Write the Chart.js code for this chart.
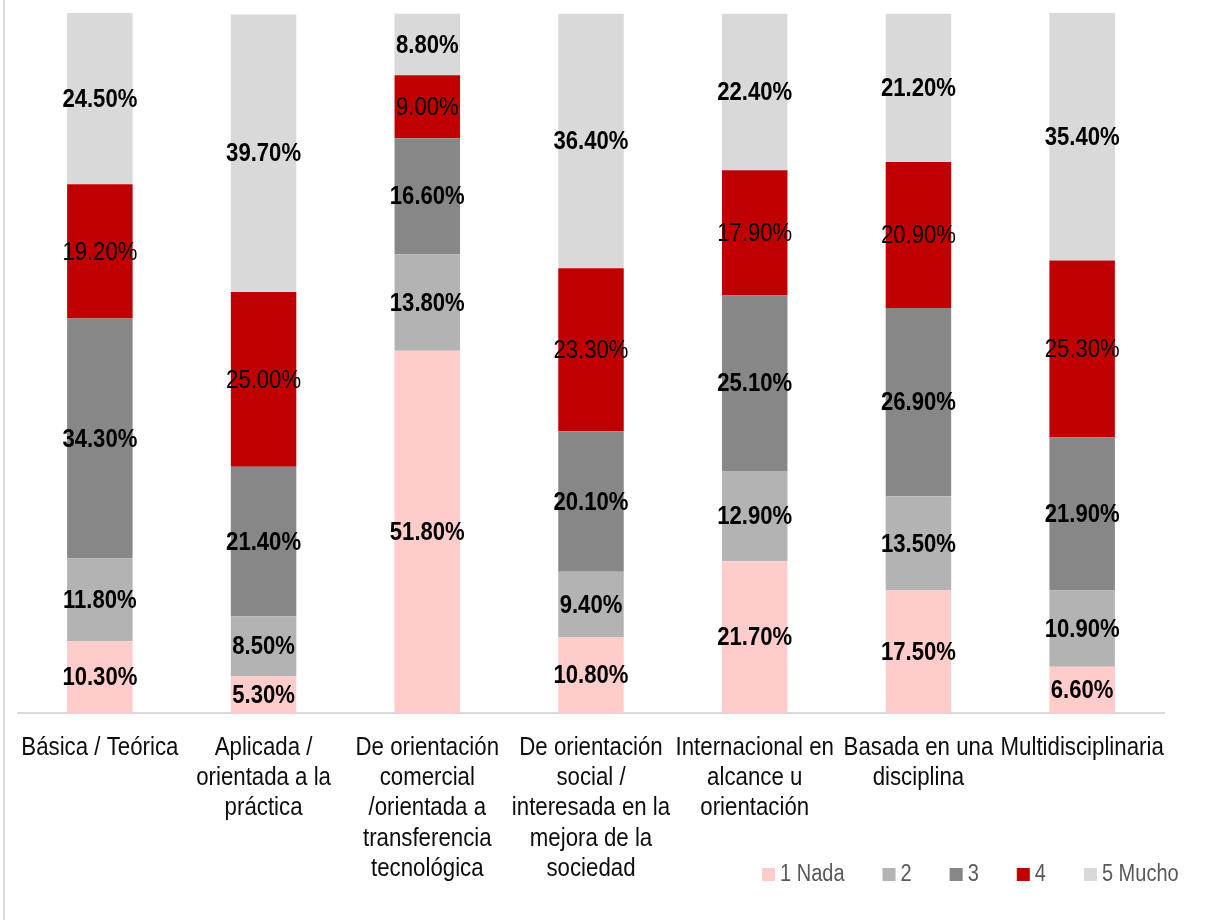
<!DOCTYPE html>
<html>
<head>
<meta charset="utf-8">
<script src="https://cdn.jsdelivr.net/npm/chart.js@4.4.0/dist/chart.umd.min.js"></script>
<style>
  html, body { margin: 0; padding: 0; background: #fff; }
  #wrap { position: relative; width: 1222px; height: 920px; }
  #wrap::before { content: ''; position: absolute; left: 3px; top: 0; bottom: 0; width: 2px; background: #d9d9d9; }
</style>
</head>
<body>
<div id="wrap">
  <canvas id="chart" width="1222" height="920"></canvas>
</div>
<script>
// Categories (multi-line tick labels)
const categories = [
  ['Básica / Teórica'],
  ['Aplicada /', 'orientada a la', 'práctica'],
  ['De orientación', 'comercial', '/orientada a', 'transferencia', 'tecnológica'],
  ['De orientación', 'social /', 'interesada en la', 'mejora de la', 'sociedad'],
  ['Internacional en', 'alcance u', 'orientación'],
  ['Basada en una', 'disciplina'],
  ['Multidisciplinaria']
];

const seriesNames = ['1 Nada', '2', '3', '4', '5 Mucho'];
const seriesColors = ['#ffcccc', '#b3b3b3', '#878787', '#c00000', '#d9d9d9'];

const nada = [10.3, 5.3, 51.8, 10.8, 21.7, 17.5, 6.6];
const dos = [11.8, 8.5, 13.8, 9.4, 12.9, 13.5, 10.9];
const tres = [34.3, 21.4, 16.6, 20.1, 25.1, 26.9, 21.9];
const cuatro = [19.2, 25.0, 9.0, 23.3, 17.9, 20.9, 25.3];
const mucho = [24.5, 39.7, 8.8, 36.4, 22.4, 21.2, 35.4];

const seriesValues = [nada, dos, tres, cuatro, mucho];

const FONT = '"Liberation Sans", Arial, sans-serif';

// helper: draw text squeezed horizontally (condensed look)
function narrowText(ctx, text, x, y, sx) {
  ctx.save();
  ctx.translate(x, y);
  ctx.scale(sx, 1);
  ctx.fillText(text, 0, 0);
  ctx.restore();
}

// Percent labels inside segments, category labels under the axis, legend
const textPlugin = {
  id: 'textPlugin',
  afterDatasetsDraw(chart) {
    const ctx = chart.ctx;
    ctx.save();
    ctx.textAlign = 'center';
    ctx.textBaseline = 'middle';
    ctx.fillStyle = '#000';
    chart.data.datasets.forEach((ds, i) => {
      const meta = chart.getDatasetMeta(i);
      ctx.font = (i === 3 ? 'normal' : 'bold') + ' 26px ' + FONT;
      meta.data.forEach((bar, j) => {
        const y = (bar.y + bar.base) / 2;
        narrowText(ctx, ds.data[j].toFixed(2) + '%', bar.x, y + 1, 0.85);
      });
    });

    // category labels
    const xScale = chart.scales.x;
    ctx.font = '25px ' + FONT;
    ctx.fillStyle = '#0d0d0d';
    categories.forEach((lines, i) => {
      const x = xScale.getPixelForValue(i);
      lines.forEach((line, k) => {
        narrowText(ctx, line, x, chart.chartArea.bottom + 35 + k * 30.3, 0.89);
      });
    });

    // legend
    ctx.font = '23px ' + FONT;
    ctx.textAlign = 'left';
    let lx = 762;
    const ly = 875;
    seriesNames.forEach((name, i) => {
      ctx.fillStyle = seriesColors[i];
      ctx.fillRect(lx, ly - 7, 13, 13);
      ctx.fillStyle = '#595959';
      narrowText(ctx, name, lx + 18, ly, 0.87);
      lx += 18 + ctx.measureText(name).width * 0.87 + 38;
    });
    ctx.restore();
  }
};

const ctx = document.getElementById('chart').getContext('2d');
const chart = new Chart(ctx, {
  type: 'bar',
  data: {
    labels: categories.map(c => c.join(' ')),
    datasets: seriesNames.map((name, i) => ({
      label: name,
      data: seriesValues[i],
      backgroundColor: seriesColors[i],
      borderWidth: 0,
      categoryPercentage: 1,
      barPercentage: 0.4
    }))
  },
  options: {
    responsive: false,
    animation: false,
    layout: { padding: { left: 18, right: 58, top: 13, bottom: 0 } },
    scales: {
      x: {
        stacked: true,
        grid: { display: false, drawTicks: false },
        border: { display: true, color: '#d9d9d9', width: 2 },
        ticks: { display: false },
        afterFit(scale) { scale.height = 207; }
      },
      y: {
        stacked: true,
        display: false,
        min: 0,
        max: 100.1
      }
    },
    plugins: {
      legend: { display: false },
      tooltip: { enabled: false }
    }
  },
  plugins: [textPlugin]
});
</script>
</body>
</html>
